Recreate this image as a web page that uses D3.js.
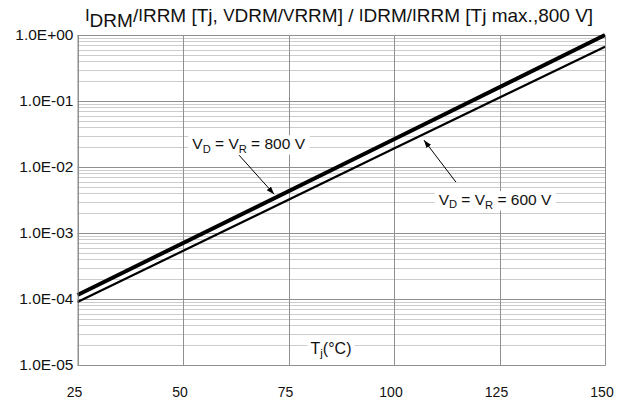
<!DOCTYPE html>
<html>
<head>
<meta charset="utf-8">
<script src="https://cdn.jsdelivr.net/npm/d3@7"></script>
<style>
  body { margin: 0; background: #fff; }
  text { font-family: "Liberation Sans", Arial, sans-serif; fill: #111; }
</style>
</head>
<body>
<svg id="chart"></svg>
<script>
/**
 * Chart data.
 */
var tempTicks = [25, 50, 75, 100, 125, 150];
var tempTickLabels = ["25", "50", "75", "100", "125", "150"];
var ratioTicks = [1e-5, 1e-4, 1e-3, 1e-2, 1e-1, 1];
var ratioTickLabels = ["1.0E-05", "1.0E-04", "1.0E-03", "1.0E-02", "1.0E-01", "1.0E+00"];
var tj = [25, 100, 150];
var ratio800 = [1.15e-4, 2.63e-2, 1.0];
var ratio600 = [0.90e-4, 1.90e-2, 0.665];

var w = 624;
var h = 405;
var margin = { top: 35, right: 19, bottom: 40, left: 77.5 };

var svg = d3.select("#chart").attr("width", w).attr("height", h);

var x = d3.scaleLinear()
    .domain([25, 150])
    .range([margin.left, w - margin.right]);

var y = d3.scaleLog()
    .domain([1e-5, 1])
    .range([h - margin.bottom, margin.top]);

// Minor grid: 2..9 in every decade
var minor = [];
ratioTicks.slice(0, -1).forEach(function(d) {
    for (let k = 2; k <= 9; k++) minor.push(d * k);
});

var grid = svg.append("g");
grid.selectAll(".minor")
    .data(minor)
    .enter().append("line")
    .attr("x1", x.range()[0]).attr("x2", x.range()[1])
    .attr("y1", d => Math.round(y(d)) + 0.5).attr("y2", d => Math.round(y(d)) + 0.5)
    .attr("stroke", "#cccccc").attr("stroke-width", 1);

grid.selectAll(".hmajor")
    .data(ratioTicks)
    .enter().append("line")
    .attr("x1", x.range()[0]).attr("x2", x.range()[1])
    .attr("y1", d => Math.round(y(d)) + 0.5).attr("y2", d => Math.round(y(d)) + 0.5)
    .attr("stroke", "#909090").attr("stroke-width", 1);

grid.selectAll(".vmajor")
    .data(tempTicks)
    .enter().append("line")
    .attr("x1", d => Math.round(x(d)) + 0.5).attr("x2", d => Math.round(x(d)) + 0.5)
    .attr("y1", y.range()[0]).attr("y2", y.range()[1])
    .attr("stroke", "#909090").attr("stroke-width", 1);

// Tick labels
svg.append("g").selectAll("text")
    .data(ratioTicks)
    .enter().append("text")
    .attr("x", margin.left - 4)
    .attr("y", d => y(d))
    .attr("dy", "0.35em")
    .attr("text-anchor", "end")
    .style("font-size", "15.5px")
    .text((d, i) => ratioTickLabels[i]);

svg.append("g").selectAll("text")
    .data(tempTicks)
    .enter().append("text")
    .attr("x", d => x(d) - 3)
    .attr("y", h - 8)
    .attr("text-anchor", "middle")
    .style("font-size", "14px")
    .text((d, i) => tempTickLabels[i]);

// Label with white background box
var boxedLabel = function(cx, cy, parts, padX, size) {
    let g = svg.append("g");
    let rect = g.append("rect").attr("fill", "#fff");
    let t = g.append("text")
        .attr("x", cx).attr("y", cy)
        .attr("text-anchor", "middle")
        .style("font-size", size + "px");
    parts.forEach(function(p) {
        let s = t.append("tspan").text(p.t);
        if (p.sub) {
            s.style("font-size", (size * 0.72) + "px").attr("dy", "0.3em");
        } else if (p.back) {
            s.attr("dy", "-0.21em");
        }
    });
    let bb = t.node().getBBox();
    rect.attr("x", bb.x - padX).attr("y", bb.y)
        .attr("width", bb.width + 2 * padX).attr("height", bb.height);
    return g;
};

// Curves
var line = d3.line()
    .x(d => x(d[0]))
    .y(d => y(d[1]));

svg.append("path")
    .datum(d3.zip(tj, ratio600))
    .attr("d", line)
    .attr("fill", "none").attr("stroke", "#000").attr("stroke-width", 2.2);

svg.append("path")
    .datum(d3.zip(tj, ratio800))
    .attr("d", line)
    .attr("fill", "none").attr("stroke", "#000").attr("stroke-width", 4);

// Frame (left, bottom, right)
svg.append("path")
    .attr("d", "M" + (x.range()[0] + 0.5) + "," + y.range()[1] +
        "V" + (y.range()[0] + 0.5) + "H" + (x.range()[1] + 0.5) + "V" + y.range()[1])
    .attr("fill", "none").attr("stroke", "#909090");

// Point on a curve at a given temperature (log interpolation)
var onCurve = function(values, t) {
    let ly = d3.scaleLinear().domain(tj).range(values.map(Math.log10));
    return [x(t), y(Math.pow(10, ly(t)))];
};

svg.append("defs").append("marker")
    .attr("id", "arrow")
    .attr("viewBox", "0 0 10 10")
    .attr("refX", 10).attr("refY", 5)
    .attr("markerWidth", 8).attr("markerHeight", 8)
    .attr("markerUnits", "userSpaceOnUse")
    .attr("orient", "auto")
    .append("path").attr("d", "M0,1.5L10,5L0,8.5Z").attr("fill", "#000");

var annotate = function(values, t, tipDy, from, label, parts) {
    let p = onCurve(values, t);
    let tip = [p[0], p[1] + tipDy];
    svg.append("line")
        .attr("x1", tip[0] + from[0]).attr("y1", tip[1] + from[1])
        .attr("x2", tip[0]).attr("y2", tip[1])
        .attr("stroke", "#000").attr("stroke-width", 1)
        .attr("marker-end", "url(#arrow)");
    boxedLabel(tip[0] + label[0], tip[1] + label[1], parts, 4, 15.5);
};

annotate(ratio800, 71.6, -4, [-35, -39], [-25.5, -45],
    [{ t: "V" }, { t: "D", sub: true }, { t: " = V", back: true }, { t: "R", sub: true }, { t: " = 800 V", back: true }]);

annotate(ratio600, 107.1, 6, [32, 42], [71, 65],
    [{ t: "V" }, { t: "D", sub: true }, { t: " = V", back: true }, { t: "R", sub: true }, { t: " = 600 V", back: true }]);

// Axis title inside the plot
boxedLabel(331, 354, [{ t: "T" }, { t: "j", sub: true }, { t: "(°C)", back: true }], 3, 16);

// Chart title: raised letters and one lowered "DRM", shifted with dy
var titleParts = [
    { t: "I", base: 20.5, small: true }, { t: "DRM", base: 27 }, { t: "/", base: 22 },
    { t: "I", base: 20.5, small: true }, { t: "RRM [Tj, ", base: 22 },
    { t: "V", base: 21, small: true }, { t: "DRM/", base: 22 },
    { t: "V", base: 21, small: true }, { t: "RRM] / ", base: 22 },
    { t: "I", base: 20.5, small: true }, { t: "DRM/", base: 22 },
    { t: "I", base: 20.5, small: true }, { t: "RRM [Tj max.,800 V]", base: 22 }
];
var title = svg.append("text")
    .attr("x", 339).attr("y", 22)
    .attr("text-anchor", "middle")
    .style("font-size", "19px");
var curBase = 22;
titleParts.forEach(function(p) {
    let s = title.append("tspan").text(p.t).attr("dy", p.base - curBase);
    if (p.small) s.style("font-size", "17px");
    curBase = p.base;
});
</script>
</body>
</html>
